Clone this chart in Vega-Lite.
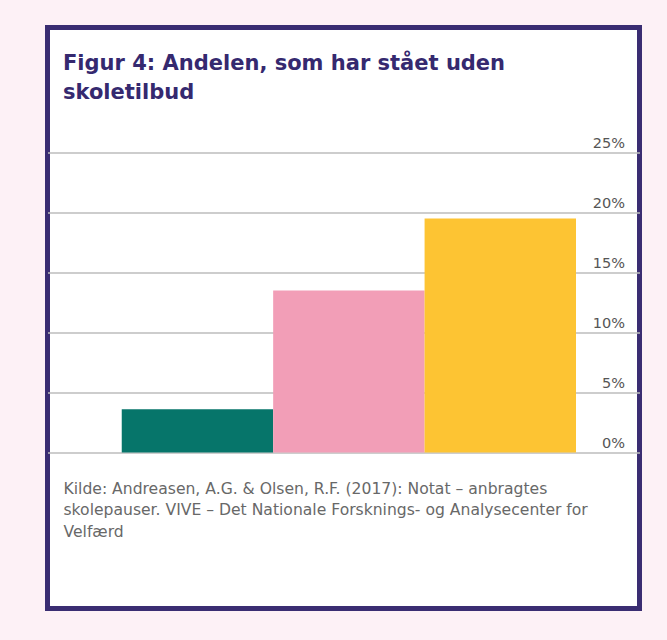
{
  "$schema": "https://vega.github.io/schema/vega-lite/v6.json",
  "width": 592,
  "height": 581,
  "autosize": {"type": "none"},
  "padding": {"left": 47.5, "top": 27.5, "right": 27.5, "bottom": 31.5},
  "background": "#fdf1f6",
  "config": {
    "view": {"fill": "white", "stroke": "#3a2d72", "strokeWidth": 5},
    "font": "DejaVu Sans"
  },
  "title": {
    "text": ["Figur 4: Andelen, som har stået uden", "skoletilbud"],
    "anchor": "start",
    "frame": "group",
    "orient": "top",
    "offset": -92,
    "dx": 15.5,
    "font": "DejaVu Sans",
    "fontSize": 21,
    "fontWeight": "bold",
    "color": "#35296f",
    "lineHeight": 29,
    "baseline": "alphabetic"
  },
  "data": {
    "values": [
      {"gruppe": "Gruppe 1", "andel": 3.6},
      {"gruppe": "Gruppe 2", "andel": 13.5},
      {"gruppe": "Gruppe 3", "andel": 19.5}
    ]
  },
  "mark": {"type": "bar"},
  "encoding": {
    "x": {
      "field": "gruppe",
      "type": "nominal",
      "sort": null,
      "scale": {"paddingInner": 0, "paddingOuter": 0.4548, "align": 0.539},
      "axis": {
        "orient": "bottom",
        "domain": false,
        "ticks": false,
        "labels": false,
        "grid": false,
        "title": [
          "Kilde: Andreasen, A.G. & Olsen, R.F. (2017): Notat – anbragtes",
          "skolepauser. VIVE – Det Nationale Forsknings- og Analysecenter for",
          "Velfærd"
        ],
        "titleAnchor": "start",
        "titleAlign": "left",
        "titleBaseline": "alphabetic",
        "titleX": 15.5,
        "titleY": -115.2,
        "titleLineHeight": 21.4,
        "titleFont": "DejaVu Sans",
        "titleFontSize": 15.6,
        "titleFontWeight": "normal",
        "titleColor": "#686868"
      }
    },
    "y": {
      "field": "andel",
      "type": "quantitative",
      "scale": {"domain": [-13.0, 35.417], "nice": false, "zero": false},
      "axis": {
        "orient": "right",
        "values": [0, 5, 10, 15, 20, 25],
        "labelExpr": "datum.value + '%'",
        "grid": true,
        "gridColor": "#bdbdbd",
        "gridWidth": 1.5,
        "domain": false,
        "ticks": false,
        "labelAlign": "right",
        "labelBaseline": "alphabetic",
        "labelPadding": -15,
        "labelOffset": -5.5,
        "labelFont": "DejaVu Sans",
        "labelFontSize": 14.5,
        "labelColor": "#555555",
        "title": null
      }
    },
    "color": {
      "field": "gruppe",
      "type": "nominal",
      "sort": null,
      "scale": {"range": ["#06756a", "#f29eb7", "#fdc433"]},
      "legend": null
    }
  }
}
